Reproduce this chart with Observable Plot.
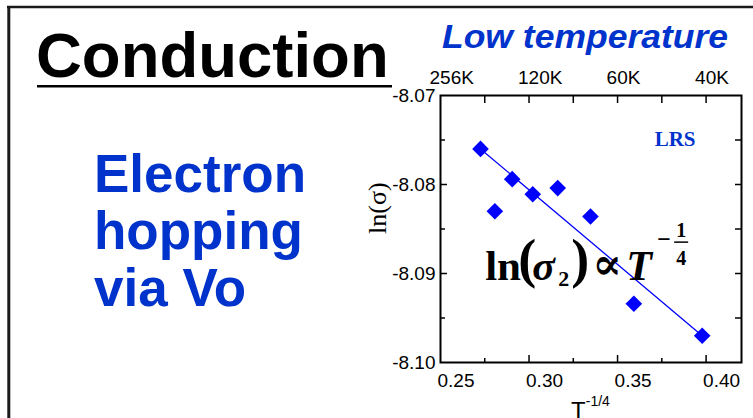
<!DOCTYPE html>
<html>
<head>
<meta charset="utf-8">
<script src="https://cdn.jsdelivr.net/npm/d3@7"></script>
<script src="https://cdn.jsdelivr.net/npm/@observablehq/plot@0.6"></script>
<style>
  html, body { margin: 0; padding: 0; background: #fff; }
  #chart { width: 753px; height: 418px; overflow: hidden; }
</style>
</head>
<body>
<div id="chart"></div>
<script>
// ---- data ----
const tQuarter = [0.2726, 0.2807, 0.2905, 0.3021, 0.3162, 0.3347, 0.3592, 0.3978];   // T^-1/4
const lnSigma  = [-8.0760, -8.0830, -8.0794, -8.0811, -8.0804, -8.0836, -8.0934, -8.0970];
const fitX = [0.2726, 0.3978];
const fitY = [-8.0760, -8.0970];

const xTickLabels = [0.25, 0.30, 0.35, 0.40];
const xMajorTicks = [0.30, 0.35, 0.40];
const xMinorTicks = [0.275, 0.325, 0.375];
const topTickValues = [0.25, 0.30, 0.35, 0.40];
const topTickLabels = ["256K", "120K", "60K", "40K"];
const yTickLabels = [-8.07, -8.08, -8.09, -8.10];
const yMajorTicks = [-8.08, -8.09];
const yMinorTicks = [-8.075, -8.085, -8.095];
const yAllTicks = [-8.075, -8.08, -8.085, -8.09, -8.095];

const points = tQuarter.map((x, i) => ({x, y: lnSigma[i]}));
const fit = fitX.map((x, i) => ({x, y: fitY[i]}));

const BLUE = "#0000ff";
const SLIDE_BLUE = "#0033cc";
const SANS = "'Liberation Sans', Arial, sans-serif";
const SERIF = "'Liberation Serif', 'Times New Roman', 'DejaVu Serif', serif";

const plot = Plot.plot({
  width: 753,
  height: 418,
  marginLeft: 440,
  marginRight: 12,
  marginTop: 95,
  marginBottom: 56,
  x: {domain: [0.25, 0.42]},
  y: {domain: [-8.10, -8.07]},
  style: {fontFamily: SANS, fontSize: "19px", color: "black", background: "white", overflow: "visible"},
  marks: [
    Plot.frame({stroke: "black", strokeWidth: 2}),
    // bottom axis
    Plot.axisX(xTickLabels, {anchor: "bottom", tickSize: 0, tickPadding: 11, textAnchor: "start", dx: -3,
      tickFormat: d => d.toFixed(2), label: null}),
    Plot.axisX(xMajorTicks, {anchor: "bottom", tickSize: -7, fill: "none", label: null, strokeWidth: 1.5}),
    Plot.axisX(xMinorTicks, {anchor: "bottom", tickSize: -4, fill: "none", label: null, strokeWidth: 1.5}),
    // top axis
    Plot.axisX(topTickValues, {anchor: "top", tickSize: 0, tickPadding: 12, textAnchor: "start", dx: -11,
      tickFormat: d => topTickLabels[topTickValues.indexOf(d)], label: null}),
    Plot.axisX(xMajorTicks.concat(xMinorTicks), {anchor: "top", tickSize: -7, fill: "none", label: null, strokeWidth: 1.5}),
    // left axis
    Plot.axisY(yTickLabels, {anchor: "left", tickSize: 0, tickPadding: 5, tickFormat: d => d.toFixed(2), label: null}),
    Plot.axisY(yMajorTicks, {anchor: "left", tickSize: -7, fill: "none", label: null, strokeWidth: 1.5}),
    Plot.axisY(yMinorTicks, {anchor: "left", tickSize: -5, fill: "none", label: null, strokeWidth: 1.5}),
    // right axis
    Plot.axisY(yAllTicks, {anchor: "right", tickSize: -7, fill: "none", label: null, strokeWidth: 1.5}),
    // y label
    Plot.text(["ln(σ)"], {frameAnchor: "left", rotate: -90, dx: -63, dy: 5,
      fontFamily: SERIF, fontSize: 26, fill: "black"}),
    // fit and data
    Plot.line(fit, {x: "x", y: "y", stroke: BLUE, strokeWidth: 1.3}),
    Plot.dot(points, {x: "x", y: "y", symbol: "diamond2", r: 7.5, fill: BLUE, stroke: "none"}),
    // LRS label
    Plot.text(["LRS"], {frameAnchor: "top-right", dx: -46, dy: 50, textAnchor: "end", lineAnchor: "bottom",
      fontFamily: SERIF, fontWeight: "bold", fontSize: 21, fill: SLIDE_BLUE})
  ]
});

document.getElementById("chart").appendChild(plot);

// ---- slide decorations & annotations ----
const svg = d3.select(plot);
const sx = plot.scale("x"), sy = plot.scale("y");
const deco = svg.append("g").attr("text-anchor", "start");

// slide border (top + left)
deco.append("line").attr("x1", 7).attr("x2", 753).attr("y1", 7).attr("y2", 7)
  .attr("stroke", "#1a1a1a").attr("stroke-width", 2.5);
deco.append("line").attr("x1", 8.8).attr("x2", 8.8).attr("y1", 6).attr("y2", 418)
  .attr("stroke", "#1a1a1a").attr("stroke-width", 3);

// Title "Conduction" underlined
deco.append("text").attr("x", 36).attr("y", 77)
  .attr("font-family", SANS).attr("font-weight", "bold").attr("font-size", 63.5)
  .attr("fill", "black").text("Conduction");
deco.append("line").attr("x1", 37).attr("x2", 392).attr("y1", 86.3).attr("y2", 86.3)
  .attr("stroke", "black").attr("stroke-width", 2.6);

// blue body text
const bodyLines = ["Electron", "hopping", "via Vo"];
const bodyBase = [191.7, 248.5, 306];
bodyLines.forEach((t, i) => {
  deco.append("text").attr("x", 94).attr("y", bodyBase[i])
    .attr("font-family", SANS).attr("font-weight", "bold").attr("font-size", 53)
    .attr("fill", SLIDE_BLUE).text(t);
});

// "Low temperature"
deco.append("text").attr("x", 442).attr("y", 48.3)
  .attr("font-family", SANS).attr("font-weight", "bold").attr("font-style", "italic")
  .attr("font-size", 33.5).attr("textLength", 286).attr("lengthAdjust", "spacingAndGlyphs")
  .attr("fill", SLIDE_BLUE).text("Low temperature");

// x-axis label T^-1/4
const xl = deco.append("text").attr("x", (sx.range[0] + sx.range[1]) / 2).attr("y", 419)
  .attr("text-anchor", "middle").attr("font-family", SANS).attr("font-size", 24).attr("fill", "black");
xl.append("tspan").text("T");
xl.append("tspan").attr("font-size", 14).attr("dy", -13).text("-1/4");

// formula ln(σ2) ∝ T^(-1/4), anchored in data coordinates
const fx = sx.apply(0.2755), fy = sy.apply(-8.0908);
const f = deco.append("g").attr("transform", `translate(${fx},${fy})`)
  .attr("font-family", SERIF).attr("font-weight", "bold").attr("fill", "black");
f.append("text").attr("x", 0).attr("y", 0).attr("font-size", 43).text("ln");
f.append("text").attr("x", 33).attr("y", -3).attr("font-size", 54).text("(");
f.append("text").attr("x", 47).attr("y", 0).attr("font-size", 42).attr("font-style", "italic").text("σ");
f.append("text").attr("x", 73).attr("y", 6).attr("font-size", 22).text("2");
f.append("text").attr("x", 86).attr("y", -3).attr("font-size", 54).text(")");
f.append("text").attr("x", 107).attr("y", -1).attr("font-size", 44).text("∝");
f.append("text").attr("x", 141).attr("y", 0).attr("font-size", 42).attr("font-style", "italic").text("T");
f.append("text").attr("x", 172).attr("y", -33).attr("font-size", 24).text("−");
f.append("text").attr("x", 196).attr("y", -43).attr("font-size", 20).attr("text-anchor", "middle").text("1");
f.append("line").attr("x1", 189).attr("x2", 203).attr("y1", -38).attr("y2", -38)
  .attr("stroke", "black").attr("stroke-width", 1.5);
f.append("text").attr("x", 196).attr("y", -15).attr("font-size", 20).attr("text-anchor", "middle").text("4");
</script>
</body>
</html>
